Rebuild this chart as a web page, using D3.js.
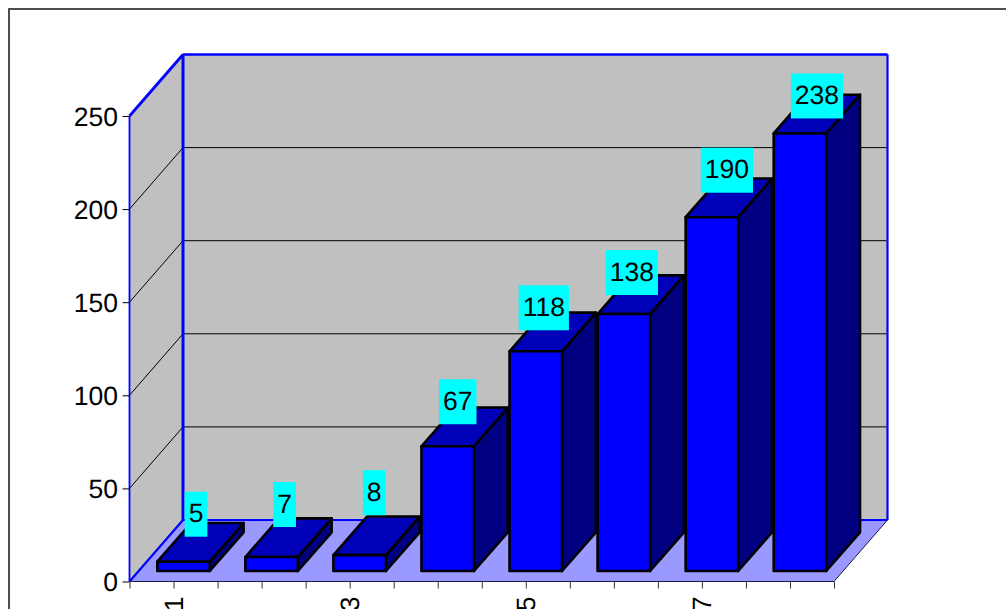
<!DOCTYPE html>
<html><head><meta charset="utf-8">
<script src="https://cdn.jsdelivr.net/npm/d3@7"></script>
<style>
html,body{margin:0;padding:0;background:#fff;overflow:hidden}
text{font-family:"Liberation Sans",Arial,sans-serif;font-size:26.5px;fill:#000;text-rendering:geometricPrecision}
</style></head><body>
<svg id="c" width="1006" height="609"></svg>
<script>
const categories=[1,2,3,4,5,6,7,8];
const barHeights=[5,7.5,8.5,67,118,138,190,235];
const dataLabels=["5","7","8","67","118","138","190","238"];
const yTicks=[0,50,100,150,200,250];
const xTickLabels={1:"1",3:"3",5:"5",7:"7"};

// layout
const X0=129.5,X1=834,YB=581.5,YT=116;
const DX=53.5,DY=-61.5;
const BDX=33.8,BDY=-38.7,BW=52.5,LIFT=10.5,SHIFT=10;
const labelOffset=[[12.5,-47.5],[13,-52.5],[14.5,-62.5],[10,-44.5],[8,-43.5],[8,-41.5],[15,-47],[17,-37.5]];

const svg=d3.select("#c");
const x=d3.scaleBand().domain(categories).range([X0,X1]);
const y=d3.scaleLinear().domain([0,250]).range([YB,YT]);
const xTick=d3.scaleLinear().domain([0,categories.length]).range([X0,X1]);
const pts=a=>a.map(p=>p.join(",")).join(" ");

svg.append("rect").attr("x",9).attr("y",9).attr("width",1100).attr("height",800)
  .attr("fill","#fff").attr("stroke","#3c3c3c").attr("stroke-width",1.8);

// walls and floor
svg.append("polygon").attr("fill","#c0c0c0")
  .attr("points",pts([[X0,y(0)],[X0,y(250)],[X0+DX,y(250)+DY],[X1+DX,y(250)+DY],[X1+DX,y(0)+DY],[X0+DX,y(0)+DY]]));
svg.append("polygon").attr("fill","#9999ff")
  .attr("points",pts([[X0,y(0)],[X0+DX,y(0)+DY],[X1+DX,y(0)+DY],[X1,y(0)]]));

// gridlines
const grid=svg.append("g").attr("stroke","#000").attr("stroke-width",1).attr("fill","none");
yTicks.filter(t=>t>0&&t<250).forEach(t=>{
  grid.append("polyline").attr("points",pts([[X0,y(t)],[X0+DX,y(t)+DY],[X1+DX-1,y(t)+DY]]));
});

// frame
const frame=(a,w,c)=>svg.append("polyline").attr("points",pts(a)).attr("fill","none")
  .attr("stroke",c||"#0000ff").attr("stroke-width",w).attr("stroke-linejoin","round");
frame([[X0,y(0)],[X0,y(250)]],1.8);
frame([[X0,y(250)],[X0+DX,y(250)+DY]],2.8);
frame([[X0+DX,y(250)+DY],[X1+DX,y(250)+DY]],2.5);
frame([[X0+DX,y(250)+DY],[X0+DX,y(0)+DY]],3);
frame([[X1+DX,y(250)+DY],[X1+DX,y(0)+DY]],2.2);
frame([[X0,y(0)],[X0+DX,y(0)+DY],[X1+DX,y(0)+DY]],2.2);
frame([[X0,y(0)],[X1,y(0)],[X1+DX,y(0)+DY]],1,"#1a1a4a");

// axes
const yAxis=d3.axisLeft(y).tickValues(yTicks).tickSize(7).tickPadding(4.5);
const gy=svg.append("g").attr("transform",`translate(${X0},0)`).call(yAxis);
gy.select(".domain").remove();
gy.selectAll("line").attr("stroke","#000");
gy.selectAll("text").attr("dy",null).attr("y",9).style("font-size","26.5px").style("font-family","Liberation Sans").attr("fill","#000");

const xAxis=d3.axisBottom(xTick).tickValues(d3.range(0,categories.length+.25,.5)).tickSize(7)
  .tickFormat(v=>xTickLabels[v+.5]&&Number.isInteger(v+.5)?xTickLabels[v+.5]:"");
const gx=svg.append("g").attr("transform",`translate(0,${YB})`).call(xAxis);
gx.select(".domain").remove();
gx.selectAll("line").attr("stroke","#333");
gx.selectAll("text").attr("dy",null).attr("y",null).attr("text-anchor","end")
  .attr("transform","translate(8.5,15) rotate(-90)")
  .style("font-size","26.5px").style("font-family","Liberation Sans").attr("fill","#000");

// bars
const base=y(0)-LIFT;
const bars=svg.append("g").attr("stroke","#000").attr("stroke-width",2.6).attr("stroke-linejoin","round");
categories.forEach((c,i)=>{
  const l=x(c)+(x.bandwidth()-BW)/2+SHIFT, r=l+BW;
  const t=y(barHeights[i])-LIFT;
  bars.append("polygon").attr("fill","#000080")
    .attr("points",pts([[r,base],[r,t],[r+BDX,t+BDY],[r+BDX,base+BDY]]));
  bars.append("polygon").attr("fill","#0000b8")
    .attr("points",pts([[l,t],[l+BDX,t+BDY],[r+BDX,t+BDY],[r,t]]));
  bars.append("rect").attr("fill","#0000ff").attr("x",l).attr("y",t).attr("width",BW).attr("height",base-t);
});

// data labels
const labels=svg.append("g");
categories.forEach((c,i)=>{
  const l=x(c)+(x.bandwidth()-BW)/2+SHIFT;
  const cx=l+BW/2+labelOffset[i][0];
  const cy=y(barHeights[i])-LIFT+labelOffset[i][1];
  const box=labels.append("rect").attr("fill","#00ffff");
  const tx=labels.append("text").attr("x",cx).attr("y",cy+8.2).attr("text-anchor","middle").text(dataLabels[i]);
  const w=tx.node().getComputedTextLength()+8;
  box.attr("x",cx-w/2).attr("y",cy-22.5).attr("width",w).attr("height",45);
});
</script></body></html>
